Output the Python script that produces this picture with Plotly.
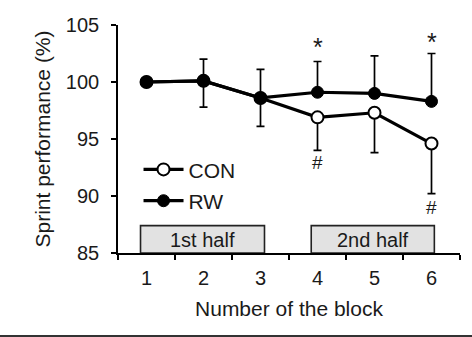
import plotly.graph_objects as go

# Block numbers (category axis)
blocks = ["1", "2", "3", "4", "5", "6"]

# Sprint performance relative to block 1 (%)
con_mean = [100.0, 100.1, 98.6, 96.9, 97.3, 94.6]
rw_mean = [100.0, 100.1, 98.6, 99.1, 99.0, 98.3]

# One-sided SD bars: RW upward, CON downward
rw_sd_up = [None, 1.9, 2.5, 2.7, 3.3, 4.2]
con_sd_down = [None, 2.3, 2.5, 2.9, 3.5, 4.4]

# Significance markers
star_blocks = ["4", "6"]
star_y = [103.1, 103.5]
hash_blocks = ["4", "6"]
hash_y = [92.9, 89.0]

# Phase boxes along the x-axis
phase_labels = ["1st half", "2nd half"]

FONT = "Liberation Sans, Arial, sans-serif"
TXT = "#1a1a1a"
FS = 20
FT = 21

fig = go.Figure()

fig.add_trace(go.Scatter(
    x=blocks, y=con_mean, name="CON", legendgroup="con",
    mode="lines+markers",
    line=dict(color="black", width=3.2),
    marker=dict(symbol="circle", size=12, color="white",
                line=dict(color="black", width=2)),
    error_y=dict(type="data", symmetric=False,
                 array=[0 for _ in con_sd_down],
                 arrayminus=con_sd_down,
                 color="black", thickness=1.7, width=4),
))

fig.add_trace(go.Scatter(
    x=blocks, y=rw_mean, name="RW", legendgroup="rw",
    mode="lines+markers",
    line=dict(color="black", width=3.2),
    marker=dict(symbol="circle", size=12, color="black",
                line=dict(color="black", width=1)),
    error_y=dict(type="data", symmetric=False,
                 array=rw_sd_up,
                 arrayminus=[0 for _ in rw_sd_up],
                 color="black", thickness=1.7, width=4),
))

annotations = []
for b, y in zip(star_blocks, star_y):
    annotations.append(dict(x=blocks.index(b), y=y, text="*", showarrow=False,
                            font=dict(family=FONT, size=25, color=TXT)))
for b, y in zip(hash_blocks, hash_y):
    annotations.append(dict(x=blocks.index(b), y=y, text="#", showarrow=False,
                            font=dict(family=FONT, size=19, color=TXT)))

# Phase boxes (category index coordinates)
box_spans = [(-0.105, 2.07), (2.89, 5.05)]
shapes = []
for (x0, x1), lab in zip(box_spans, phase_labels):
    shapes.append(dict(type="rect", xref="x", yref="y",
                       x0=x0, x1=x1, y0=85, y1=87.4,
                       fillcolor="#e2e2e2",
                       line=dict(color="#222222", width=1.6),
                       layer="below"))
    annotations.append(dict(x=(x0 + x1) / 2, y=86.15, text=lab,
                            showarrow=False,
                            font=dict(family=FONT, size=FS, color=TXT)))

# Rule along the bottom edge
shapes.append(dict(type="line", xref="paper", yref="paper",
                   x0=-0.4, x1=1.1, y0=-0.364, y1=-0.364,
                   line=dict(color="#333333", width=2)))

fig.update_layout(
    width=472, height=337,
    margin=dict(l=118, r=12, t=25, b=84),
    paper_bgcolor="white", plot_bgcolor="white",
    font=dict(family=FONT, size=FS, color=TXT),
    showlegend=True,
    legend=dict(x=0.06, y=0.455, xanchor="left", yanchor="top",
                bgcolor="rgba(0,0,0,0)", tracegroupgap=1,
                font=dict(family=FONT, size=FT, color=TXT),
                itemwidth=40),
    xaxis=dict(type="category", categoryarray=blocks,
               range=[-0.5, 5.5], showgrid=False, zeroline=False,
               showline=True, linecolor="black", linewidth=1.6,
               ticks="outside", tickson="boundaries", ticklen=5,
               tickwidth=1.6, tickcolor="black",
               ticklabelstandoff=6,
               tickfont=dict(family=FONT, size=FS, color=TXT),
               title=dict(text="Number of the block", standoff=14,
                          font=dict(family=FONT, size=FT, color=TXT))),
    yaxis=dict(range=[85, 105], tickvals=[85, 90, 95, 100, 105],
               showgrid=False, zeroline=False,
               showline=True, linecolor="black", linewidth=1.6,
               ticks="outside", ticklen=5, tickwidth=1.6,
               tickcolor="black", ticklabelstandoff=8,
               tickfont=dict(family=FONT, size=FS, color=TXT),
               title=dict(text="Sprint performance (%)", standoff=9,
                          font=dict(family=FONT, size=FT, color=TXT))),
    shapes=shapes,
    annotations=annotations,
)

fig.write_html("out.html")
